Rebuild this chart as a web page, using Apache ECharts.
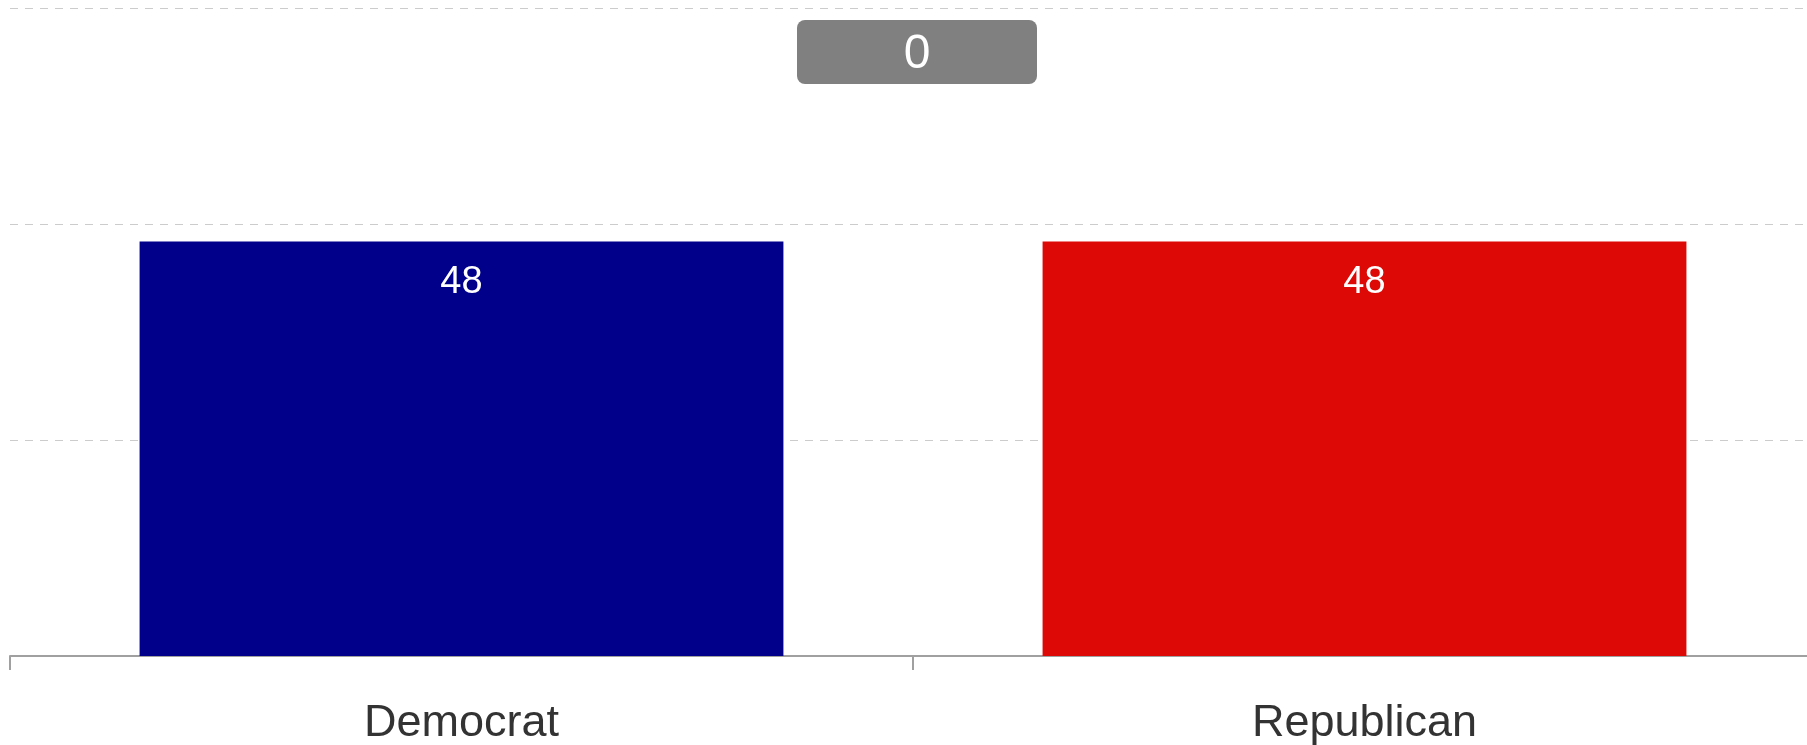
<!DOCTYPE html>
<html>
<head>
<meta charset="utf-8">
<script src="https://cdn.jsdelivr.net/npm/echarts@6/dist/echarts.min.js"></script>
<style>
html,body{margin:0;padding:0;background:#fff;}
#chart{width:1807px;height:745px;}
</style>
</head>
<body>
<div id="chart"></div>
<script>
var categories = ['Democrat', 'Republican'];
var values = [48, 48];
var barColors = ['#00008b', '#dd0906'];
var yTicks = [0, 25, 50, 75];

var margin = Math.abs(values[0] - values[1]);

var chart = echarts.init(document.getElementById('chart'), null, {renderer: 'canvas'});
chart.setOption({
  animation: false,
  backgroundColor: '#ffffff',
  textStyle: {fontFamily: 'Liberation Sans, Arial, sans-serif'},
  grid: {left: 10, right: -9, top: 8.5, bottom: 89, containLabel: false, outerBoundsMode: 'none'},
  xAxis: {
    type: 'category',
    data: categories,
    axisLine: {show: true, lineStyle: {color: '#a0a0a0', width: 2}},
    axisTick: {show: true, length: 14, lineStyle: {color: '#a0a0a0', width: 2}},
    axisLabel: {color: '#333333', fontSize: 45, margin: 45, fontFamily: 'Liberation Sans, Arial, sans-serif'}
  },
  yAxis: {
    type: 'value',
    min: yTicks[0],
    max: yTicks[yTicks.length - 1],
    interval: yTicks[1] - yTicks[0],
    axisLine: {show: false},
    axisTick: {show: false},
    axisLabel: {show: false},
    splitLine: {show: true, lineStyle: {color: '#cccccc', width: 1, type: [8, 7]}}
  },
  series: [{
    type: 'bar',
    barWidth: '71.3%',
    data: values.map(function (v, i) { return {value: v, itemStyle: {color: barColors[i]}}; }),
    label: {
      show: true,
      position: 'insideTop',
      distance: 22,
      color: '#ffffff',
      fontSize: 38,
      fontFamily: 'Liberation Sans, Arial, sans-serif'
    }
  }],
  graphic: [{
    type: 'group',
    children: [{
      type: 'rect',
      shape: {x: 797, y: 20, width: 240, height: 64, r: 8},
      style: {fill: '#808080'}
    }, {
      type: 'text',
      x: 917, y: 55,
      style: {
        text: String(margin),
        fill: '#ffffff',
        fontSize: 48,
        fontFamily: 'Liberation Sans, Arial, sans-serif',
        align: 'center',
        verticalAlign: 'middle'
      }
    }]
  }]
});
</script>
</body>
</html>
